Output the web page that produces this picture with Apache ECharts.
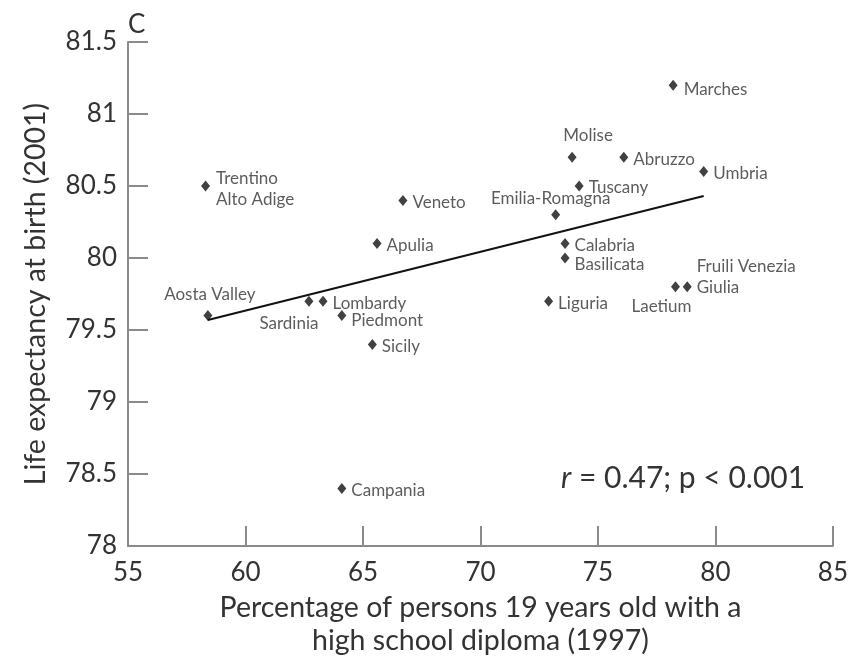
<!DOCTYPE html>
<html>
<head>
<meta charset="utf-8">
<script src="https://cdn.jsdelivr.net/npm/echarts@6/dist/echarts.min.js"></script>
<style>
  html, body { margin: 0; padding: 0; background: #fff; }
  #chart { width: 851px; height: 662px; }
</style>
</head>
<body>
<div id="chart"></div>
<script>
// regions (names as printed on the chart)
const regions = ['Aosta Valley', 'Trentino\nAlto Adige', 'Veneto', 'Apulia', 'Sardinia', 'Lombardy',
  'Piedmont', 'Sicily', 'Campania', 'Marches', 'Molise', 'Abruzzo', 'Umbria', 'Tuscany',
  'Emilia-Romagna', 'Calabria', 'Basilicata', 'Liguria', 'Laetium', 'Fruili Venezia\nGiulia']
// % of 19 year olds with a high school diploma (1997)
const diploma = [58.4, 58.3, 66.7, 65.6, 62.7, 63.3, 64.1, 65.4, 64.1, 78.2, 73.9, 76.1, 79.5, 74.2,
  73.2, 73.6, 73.6, 72.9, 78.3, 78.8]
// life expectancy at birth (2001)
const lifeExp = [79.6, 80.5, 80.4, 80.1, 79.7, 79.7, 79.6, 79.4, 78.4, 81.2, 80.7, 80.7, 80.6, 80.5,
  80.3, 80.1, 80.0, 79.7, 79.8, 79.8]
// fitted line end points
const fitX = [58.4, 79.5]
const fitY = [79.57, 80.43]

const xTicks = { min: 55, max: 85, interval: 5 }
const yTicks = { min: 78, max: 81.5, interval: 0.5 }

// where each label sits next to its point
const labelPos = {
  'Aosta Valley': ['top', [2, 0]],
  'Sardinia': ['bottom', [-20, 1]],
  'Molise': ['top', [16, -1]],
  'Emilia-Romagna': ['top', [-5, 5]],
  'Laetium': ['bottom', [-14, -1]],
  'Trentino\nAlto Adige': ['right', [1, 3]],
  'Fruili Venezia\nGiulia': ['right', [0, -10]],
  'Basilicata': ['right', [0, 7]],
  'Piedmont': ['right', [0, 5]],
  'Marches': ['right', [1, 4]]
}

const font = 'Lato'
const txt = '#333'
const axisGray = '#8a8a8a'

const points = regions.map((name, i) => {
  const p = labelPos[name] || ['right', [0, 2]]
  return {
    name: name,
    value: [diploma[i], lifeExp[i]],
    label: { position: p[0], offset: p[1] }
  }
})

const chart = echarts.init(document.getElementById('chart'))
chart.setOption({
  animation: false,
  backgroundColor: '#fff',
  grid: { left: 128, right: 16, top: 42, bottom: 110 },
  xAxis: {
    type: 'value',
    min: xTicks.min,
    max: xTicks.max,
    interval: xTicks.interval,
    name: 'Percentage of persons 19 years old with a\nhigh school diploma (1997)',
    nameLocation: 'middle',
    nameGap: 45,
    nameTextStyle: { fontFamily: font, fontSize: 28.5, color: txt, lineHeight: 33 },
    axisLine: { lineStyle: { color: axisGray, width: 2 } },
    axisTick: { inside: true, length: 20, lineStyle: { color: axisGray, width: 2 } },
    axisLabel: { fontFamily: font, fontSize: 26, color: txt, margin: 14 },
    splitLine: { show: false }
  },
  yAxis: {
    type: 'value',
    min: yTicks.min,
    max: yTicks.max,
    interval: yTicks.interval,
    name: 'Life expectancy at birth (2001)',
    nameLocation: 'middle',
    nameGap: 78,
    nameTextStyle: { fontFamily: font, fontSize: 28.5, color: txt },
    axisLine: { show: true, lineStyle: { color: axisGray, width: 2 } },
    axisTick: { show: true, inside: true, length: 20, lineStyle: { color: axisGray, width: 2 } },
    axisLabel: { fontFamily: font, fontSize: 26, color: txt, margin: 11 },
    splitLine: { show: false }
  },
  series: [
    {
      type: 'line',
      data: fitX.map((x, i) => [x, fitY[i]]),
      symbol: 'none',
      lineStyle: { color: '#111', width: 2 },
      silent: true,
      z: 1
    },
    {
      type: 'scatter',
      data: points,
      symbol: 'diamond',
      symbolSize: [9, 11],
      itemStyle: { color: '#111' },
      label: {
        show: true,
        formatter: '{b}',
        fontFamily: font,
        fontSize: 17,
        lineHeight: 21,
        color: txt,
        distance: 5
      },
      z: 2
    }
  ],
  graphic: [
    {
      type: 'text',
      left: 128,
      top: 12,
      style: { text: 'C', fontFamily: font, fontSize: 26, fill: txt }
    },
    {
      type: 'text',
      left: 561,
      top: 463,
      style: {
        text: '{i|r} = 0.47; p < 0.001',
        fontFamily: font,
        fontSize: 30,
        fill: txt,
        rich: { i: { fontFamily: font, fontSize: 30, fontStyle: 'italic', color: txt } }
      }
    }
  ]
})
</script>
</body>
</html>
